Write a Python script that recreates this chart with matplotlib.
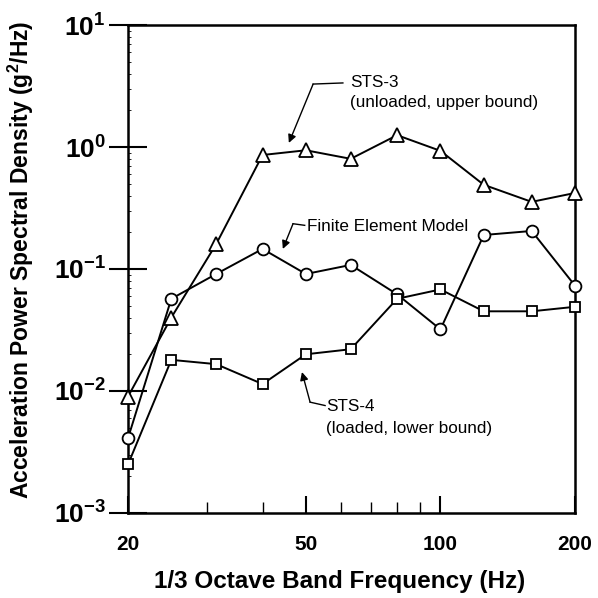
import matplotlib
matplotlib.use("Agg")
import matplotlib.pyplot as plt
from matplotlib.ticker import FixedLocator, NullFormatter, LogLocator

plt.rcParams['font.family'] = ['Liberation Sans', 'DejaVu Sans']
plt.rcParams['mathtext.fontset'] = 'custom'
plt.rcParams['mathtext.rm'] = 'Liberation Sans'
plt.rcParams['mathtext.bf'] = 'Liberation Sans:bold'

freq = [20, 25, 31.5, 40, 50, 63, 80, 100, 125, 160, 200]
sts3 = [0.009, 0.04, 0.16, 0.86, 0.94, 0.8, 1.25, 0.93, 0.49, 0.355, 0.42]
fem = [0.0041, 0.057, 0.091, 0.146, 0.091, 0.108, 0.062, 0.032, 0.19, 0.205, 0.073]
sts4 = [0.0025, 0.018, 0.0166, 0.0114, 0.02, 0.022, 0.057, 0.068, 0.045, 0.045, 0.049]

xticks = [20, 50, 100, 200]
xlabels = ['20', '50', '100', '200']
yticks = [1e-3, 1e-2, 1e-1, 1e0, 1e1]
ylabels = [r'$\mathbf{10^{-3}}$', r'$\mathbf{10^{-2}}$', r'$\mathbf{10^{-1}}$',
           r'$\mathbf{10^{0}}$', r'$\mathbf{10^{1}}$']

fig = plt.figure(figsize=(5.98, 5.98), dpi=100)
ax = fig.add_axes([128 / 598, 1 - 513 / 598, 447 / 598, 488 / 598])

mk = dict(color='black', lw=1.4, markerfacecolor='white', markeredgecolor='black',
          markeredgewidth=1.3, clip_on=False, zorder=3)
ax.plot(freq, sts3, marker='^', ms=9.5, **mk)
ax.plot(freq, fem, marker='o', ms=8.5, **mk)
ax.plot(freq, sts4, marker='s', ms=7.5, **mk)

ax.set_xscale('log')
ax.set_yscale('log')
ax.set_xlim(20, 200)
ax.set_ylim(1e-3, 1e1)

ax.xaxis.set_major_locator(FixedLocator(xticks))
ax.set_xticklabels(xlabels)
ax.xaxis.set_minor_locator(FixedLocator([30, 40, 60, 70, 80, 90]))
ax.xaxis.set_minor_formatter(NullFormatter())
ax.yaxis.set_major_locator(FixedLocator(yticks))
ax.set_yticklabels(ylabels)
ax.yaxis.set_minor_locator(LogLocator(base=10, subs=range(2, 10), numticks=10))
ax.yaxis.set_minor_formatter(NullFormatter())

ax.tick_params(axis='y', which='major', direction='inout', length=28, width=1.5,
               labelsize=19, pad=2)
ax.tick_params(axis='y', which='minor', direction='in', length=2, width=0.6)
ax.tick_params(axis='x', which='major', direction='in', length=12, width=1.5,
               labelsize=15, pad=16)
ax.tick_params(axis='x', which='minor', direction='in', length=8, width=1.0)
for lab in ax.get_xticklabels():
    lab.set_fontweight('bold')
for s in ax.spines.values():
    s.set_linewidth(1.8)

ax.set_xlabel('1/3 Octave Band Frequency (Hz)', fontsize=17.5, fontweight='bold')
ax.set_ylabel(r'Acceleration Power Spectral Density (g$^\mathbf{2}$/Hz)', fontsize=16.5,
              fontweight='bold')
ax.xaxis.set_label_coords(0.474, -0.117)
ax.yaxis.set_label_coords(-0.205, 0.518)

arrow = dict(arrowstyle='-|>', color='black', lw=1.0, mutation_scale=12,
             shrinkA=0, shrinkB=0)
fs = 12.3
# leader lines: bend point -> arrow tip, plus short run to the text
ax.annotate('', xy=(45.8, 1.08), xytext=(51.9, 3.28), arrowprops=arrow)
ax.plot([51.9, 60.5], [3.28, 3.35], color='black', lw=1.0)
ax.text(62.8, 3.35, 'STS-3', fontsize=fs, va='center')
ax.text(62.8, 2.3, '(unloaded, upper bound)', fontsize=fs, va='center')

ax.annotate('', xy=(44.4, 0.146), xytext=(46.8, 0.235), arrowprops=arrow)
ax.plot([46.8, 49.7], [0.235, 0.228], color='black', lw=1.0)
ax.text(50.2, 0.225, 'Finite Element Model', fontsize=fs, va='center')

ax.annotate('', xy=(49.0, 0.0143), xytext=(51.1, 0.0081), arrowprops=arrow)
ax.plot([51.1, 55.2], [0.0081, 0.0076], color='black', lw=1.0)
ax.text(55.6, 0.0074, 'STS-4', fontsize=fs, va='center')
ax.text(55.6, 0.0049, '(loaded, lower bound)', fontsize=fs, va='center')

fig.savefig('out.png', dpi=100)
